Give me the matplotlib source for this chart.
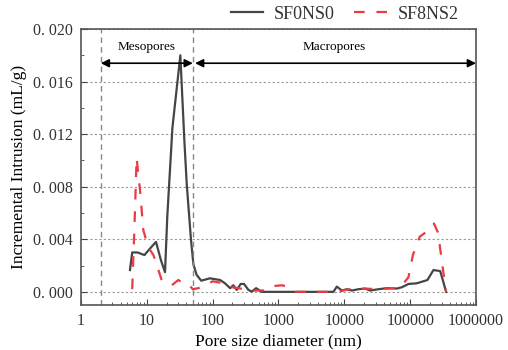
import matplotlib
matplotlib.use('Agg')
import matplotlib.pyplot as plt
from matplotlib.ticker import FixedLocator, LogLocator, NullFormatter

# Pore size (nm) and incremental intrusion (mL/g)
sf0_x = [5.55, 6.0, 7.2, 9.2, 11.2, 13.8, 16.4, 18.9, 20.5, 24.5, 32.3, 37.2, 40.4,
         47, 51, 57, 67, 91, 130, 154, 184, 206, 232, 267, 300, 349, 393, 457, 557,
         1000, 3000, 6830, 7690, 9160, 10900, 13000, 16400, 20700, 24700, 33000,
         44200, 62800, 74800, 94300, 126000, 183000, 226000, 286000, 352000]
sf0_y = [0.00166, 0.0030, 0.0030, 0.0028, 0.0033, 0.0038, 0.0024, 0.0015, 0.0058,
         0.0125, 0.0180, 0.0115, 0.0082, 0.0039, 0.0021, 0.0013, 0.00085, 0.00103,
         0.0009, 0.00065, 0.00028, 0.0005, 0.00015, 0.0006, 0.0006, 0.00015,
         0.00002, 0.00028, 0.0, 0.0, 0.0, 0.0, 0.0004, 0.0001, 0.0002, 0.0001,
         0.0002, 0.00025, 0.0001, 0.0002, 0.00028, 0.00025, 0.00035, 0.0006,
         0.00065, 0.0009, 0.00166, 0.00158, 0.0]

sf8_x = [6.0, 6.5, 7.0, 7.9, 8.85, 10.5, 12.6, 15, 16.8, 20, 23.9, 30.1, 35.9, 42.8,
         50, 60.7, 76.6, 100, 130, 170, 310, 350, 580, 690, 1120, 1400, 1800, 3000,
         8000, 9500, 12000, 14000, 20000, 34000, 63000, 75000, 94000, 110000,
         140000, 180000, 230000, 265000, 300000, 350000]
sf8_y = [0.0002, 0.0050, 0.0102, 0.0077, 0.0047, 0.0034, 0.0028, 0.00166, 0.0009,
         0.00065, 0.0005, 0.0009, 0.00065, 0.0006, 0.0002, 0.00028, 0.0005,
         0.0008, 0.0007, 0.0004, 0.0002, 0.0001, 0.0001, 0.0004, 0.0005, 0.0004,
         0.0, 0.0, 0.0, 0.0001, 0.0002, 0.0001, 0.00025, 0.0002, 0.0003, 0.0005,
         0.0011, 0.0028, 0.0042, 0.0046, 0.0052, 0.0045, 0.0025, 0.0]

y_ticks = [0.000, 0.004, 0.008, 0.012, 0.016, 0.020]
x_ticks = [1, 10, 100, 1000, 10000, 100000, 1000000]

plt.rcParams['font.family'] = ['Liberation Serif', 'DejaVu Serif']
plt.rcParams['axes.linewidth'] = 1.2

fig = plt.figure(figsize=(5.08, 3.5), dpi=100)
ax = fig.add_axes([0.1594, 0.1286, 0.7776, 0.7884])

ax.plot(sf0_x, sf0_y, color='#454545', lw=1.6, label='SF0NS0')
ax.plot(sf8_x, sf8_y, color='#ea3a42', lw=1.6, dashes=[4.8, 5.3], label='SF8NS2')

ax.set_xscale('log')
ax.set_xlim(1, 1000000)
ax.set_ylim(-0.001, 0.020)

ax.xaxis.set_major_locator(FixedLocator(x_ticks))
ax.set_xticklabels([str(v) for v in x_ticks])
ax.xaxis.set_minor_locator(LogLocator(base=10, subs=range(2, 10), numticks=20))
ax.xaxis.set_minor_formatter(NullFormatter())
ax.set_yticks(y_ticks)
ax.set_yticklabels(['0. %03d' % round(v * 1000) for v in y_ticks])
ax.set_yticks([0.002, 0.006, 0.010, 0.014, 0.018], minor=True)

ax.tick_params(which='both', direction='in', labelsize=11.5, color='#444444')
ax.tick_params(which='major', length=4)
ax.tick_params(which='minor', length=2.5)
ax.tick_params(axis='both', labelcolor='#333333', pad=6)

for s in ax.spines.values():
    s.set_color('#555555')

ax.grid(axis='y', which='major', linestyle=(0, (2, 2)), color='#999999', lw=0.8)

# pore-class boundaries
for b in [2, 50]:
    ax.axvline(b, color='#888888', lw=1.0, dashes=[4, 3])

arr_y = 0.0174
ax.annotate('', xy=(2, arr_y), xytext=(50, arr_y),
            arrowprops=dict(arrowstyle='<|-|>', color='black', lw=1.2,
                            mutation_scale=12, shrinkA=0, shrinkB=0))
ax.annotate('', xy=(54, arr_y), xytext=(1000000, arr_y),
            arrowprops=dict(arrowstyle='<|-|>', color='black', lw=1.2,
                            mutation_scale=12, shrinkA=0, shrinkB=0))
ax.text(10, 0.0186, 'Mesopores', ha='center', va='center', fontsize=9.5)
ax.text(7071, 0.0186, 'Macropores', ha='center', va='center', fontsize=9.5)

ax.set_xlabel('Pore size diameter (nm)', fontsize=12.5, labelpad=3)
ax.set_ylabel('Incremental Intrusion (mL/g)', fontsize=12.5, labelpad=4)

leg = ax.legend(loc='center right', bbox_to_anchor=(0.96, 1.054), ncol=2,
                frameon=False, fontsize=13, handlelength=1.78, columnspacing=1.1,
                handletextpad=0.6, borderaxespad=0, borderpad=0.1)
for t in leg.get_texts():
    t.set_color('#333333')

fig.savefig('out.png', dpi=100)
